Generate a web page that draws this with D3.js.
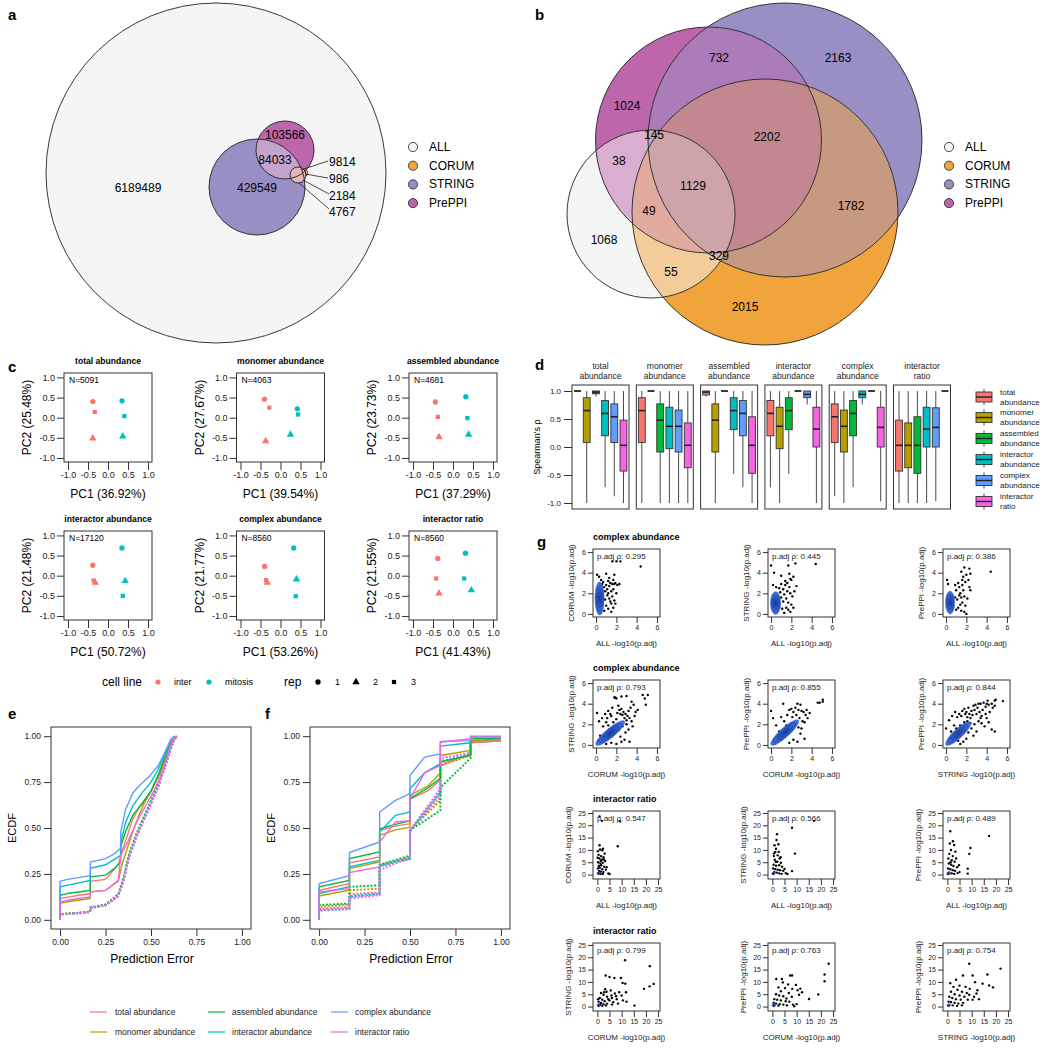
<!DOCTYPE html>
<html><head><meta charset="utf-8">
<script src="https://cdn.jsdelivr.net/npm/d3@7"></script>
<style>body{margin:0;background:#fff}svg{display:block}</style>
</head><body><svg id="c" width="1050" height="1050"></svg>
<script>
// ================= DATA =================
const vennSets = ["ALL","CORUM","STRING","PrePPI"];
const vennColors = ["#F5F5F5","#F1A43C","#9A8FC5","#BD66AC"];
// panel a region counts
const aCounts = [6189489, 429549, 84033, 103566, 9814, 986, 2184, 4767];
// panel b region counts
const bCounts = [732, 2163, 1024, 145, 2202, 38, 1129, 1782, 49, 1068, 329, 55, 2015];

// panel c (PCA)
const pcaTitles = ["total abundance","monomer abundance","assembled abundance","interactor abundance","complex abundance","interactor ratio"];
const pcaN = [5091, 4063, 4681, 17120, 8560, 8560];
const pcaVar1 = ["36.92","39.54","37.29","50.72","53.26","41.43"];
const pcaVar2 = ["25.48","27.67","23.73","21.48","21.77","21.55"];
const cellLines = ["inter","mitosis"];
const reps = ["1","2","3"];
// per panel: inter rep1, rep2, rep3, mitosis rep1, rep2, rep3
const pcaPC1 = [
  [-0.38,-0.38,-0.33, 0.35,0.37,0.41],
  [-0.40,-0.37,-0.28, 0.42,0.25,0.44],
  [-0.44,-0.35,-0.38, 0.32,0.39,0.36],
  [-0.38,-0.32,-0.36, 0.35,0.43,0.37],
  [-0.40,-0.33,-0.36, 0.33,0.40,0.38],
  [-0.38,-0.35,-0.42, 0.31,0.46,0.28]];
const pcaPC2 = [
  [0.40,-0.51,0.14, 0.42,-0.46,0.04],
  [0.46,-0.58,0.25, 0.22,-0.42,0.08],
  [0.39,-0.48,0.02, 0.52,-0.42,-0.01],
  [0.26,-0.17,-0.12, 0.69,-0.13,-0.50],
  [0.23,-0.17,-0.11, 0.69,-0.09,-0.51],
  [0.43,-0.44,-0.07, 0.56,-0.36,-0.07]];

// panel d (Spearman boxplots): [lower whisker, q1, median, q3, upper whisker]
const methods = ["total abundance","monomer abundance","assembled abundance","interactor abundance","complex abundance","interactor ratio"];
const methodColors = ["#F8766D","#B79F00","#00BA38","#00BFC4","#619CFF","#F564E3"];
const FLAT = [1,1,1,1,1];
const boxStats = [
  [FLAT,[-1,0.08,0.65,0.88,1],[0.9,0.95,0.98,1,1],[-0.72,0.2,0.6,0.83,1],[-0.88,0.08,0.54,0.77,1],[-1,-0.43,0.03,0.48,1]],
  [[-1,0.08,0.65,0.88,1],FLAT,[-1,-0.09,0.48,0.77,1],[-1,-0.03,0.37,0.71,1],[-1,-0.09,0.37,0.66,1],[-1,-0.37,0.03,0.43,1]],
  [[0.9,0.93,0.98,1,1],[-1,-0.09,0.48,0.77,1],FLAT,[-0.48,0.31,0.65,0.88,1],[-0.72,0.2,0.6,0.83,1],[-1,-0.47,0.03,0.54,1]],
  [[-0.72,0.2,0.6,0.83,1],[-1,-0.03,0.37,0.71,1],[-0.48,0.31,0.65,0.88,1],FLAT,[0.76,0.88,0.94,1,1],[-1,0,0.32,0.71,1]],
  [[-0.88,0.08,0.54,0.77,1],[-1,-0.09,0.37,0.66,1],[-0.72,0.2,0.6,0.83,1],[0.76,0.88,0.94,1,1],FLAT,[-0.97,0,0.35,0.71,1]],
  [[-1,-0.43,0.03,0.48,1],[-1,-0.37,0.03,0.43,1],[-1,-0.47,0.03,0.54,1],[-1,0,0.32,0.71,1],[-0.97,0,0.35,0.7,1],FLAT]];

// panel e ECDF (solid = model, dotted = baseline), order = methods
const eSolid = [
  [[0,0],[0,0.116],[0.05,0.125],[0.165,0.143],[0.167,0.21],[0.25,0.22],[0.32,0.30],[0.34,0.37],[0.37,0.46],[0.40,0.55],[0.44,0.62],[0.5,0.70],[0.55,0.80],[0.59,0.90],[0.62,0.985],[0.635,1.0]],
  [[0,0],[0,0.09],[0.05,0.1],[0.165,0.116],[0.167,0.152],[0.25,0.16],[0.32,0.21],[0.34,0.30],[0.37,0.39],[0.40,0.48],[0.43,0.56],[0.46,0.63],[0.5,0.70],[0.55,0.80],[0.59,0.90],[0.62,0.985],[0.64,1.0]],
  [[0,0],[0,0.134],[0.05,0.145],[0.165,0.16],[0.167,0.234],[0.25,0.243],[0.3,0.28],[0.332,0.315],[0.334,0.40],[0.36,0.48],[0.40,0.57],[0.45,0.63],[0.5,0.70],[0.54,0.79],[0.58,0.895],[0.61,0.97],[0.635,1.0]],
  [[0,0],[0,0.18],[0.05,0.19],[0.165,0.215],[0.167,0.28],[0.25,0.30],[0.332,0.35],[0.334,0.42],[0.36,0.53],[0.40,0.62],[0.45,0.69],[0.5,0.75],[0.54,0.82],[0.58,0.91],[0.61,0.98],[0.63,1.0]],
  [[0,0],[0,0.21],[0.04,0.22],[0.1,0.23],[0.165,0.24],[0.167,0.315],[0.25,0.333],[0.3,0.36],[0.332,0.39],[0.334,0.48],[0.36,0.6],[0.4,0.69],[0.435,0.73],[0.49,0.78],[0.54,0.84],[0.58,0.92],[0.61,0.985],[0.63,1.0]],
  [[0,0],[0,0.098],[0.05,0.108],[0.165,0.125],[0.167,0.152],[0.25,0.16],[0.32,0.215],[0.334,0.35],[0.37,0.42],[0.42,0.53],[0.47,0.62],[0.52,0.71],[0.56,0.80],[0.59,0.895],[0.62,0.985],[0.64,1.0]]];
const eDotted = [
  [[0,0],[0,0.03],[0.1,0.037],[0.165,0.044],[0.167,0.066],[0.25,0.082],[0.32,0.136],[0.35,0.23],[0.38,0.355],[0.42,0.465],[0.46,0.555],[0.5,0.645],[0.54,0.735],[0.57,0.825],[0.6,0.91],[0.625,0.98],[0.64,1.0]],
  [[0,0],[0,0.032],[0.1,0.038],[0.165,0.045],[0.167,0.064],[0.25,0.079],[0.32,0.13],[0.35,0.22],[0.38,0.345],[0.42,0.455],[0.46,0.545],[0.5,0.635],[0.54,0.725],[0.57,0.815],[0.6,0.905],[0.625,0.975],[0.645,1.0]],
  [[0,0],[0,0.031],[0.1,0.038],[0.165,0.045],[0.167,0.068],[0.25,0.084],[0.32,0.14],[0.35,0.235],[0.38,0.36],[0.42,0.47],[0.46,0.56],[0.5,0.65],[0.54,0.74],[0.57,0.83],[0.6,0.915],[0.625,0.982],[0.64,1.0]],
  [[0,0],[0,0.03],[0.1,0.036],[0.165,0.043],[0.167,0.065],[0.25,0.08],[0.32,0.132],[0.35,0.222],[0.38,0.348],[0.42,0.458],[0.46,0.548],[0.5,0.638],[0.54,0.728],[0.57,0.818],[0.6,0.905],[0.625,0.978],[0.64,1.0]],
  [[0,0],[0,0.029],[0.1,0.035],[0.165,0.042],[0.167,0.063],[0.25,0.078],[0.32,0.128],[0.35,0.215],[0.38,0.34],[0.42,0.45],[0.46,0.54],[0.5,0.63],[0.54,0.72],[0.57,0.81],[0.6,0.9],[0.625,0.975],[0.645,1.0]],
  [[0,0],[0,0.03],[0.1,0.036],[0.165,0.043],[0.167,0.064],[0.25,0.079],[0.32,0.13],[0.35,0.218],[0.38,0.342],[0.42,0.452],[0.46,0.542],[0.5,0.632],[0.54,0.722],[0.57,0.812],[0.6,0.902],[0.625,0.976],[0.645,1.0]]];
// panel f ECDF
const fSolid = [
  [[0,0],[0,0.161],[0.167,0.197],[0.167,0.31],[0.333,0.342],[0.333,0.487],[0.42,0.51],[0.5,0.524],[0.5,0.656],[0.6,0.705],[0.667,0.76],[0.667,0.84],[0.833,0.904],[0.833,0.964],[1.0,0.975]],
  [[0,0],[0,0.13],[0.167,0.161],[0.167,0.279],[0.333,0.315],[0.333,0.46],[0.42,0.49],[0.5,0.505],[0.5,0.677],[0.6,0.73],[0.667,0.80],[0.667,0.895],[0.833,0.922],[0.833,0.976],[1.0,0.985]],
  [[0,0],[0,0.18],[0.167,0.215],[0.167,0.333],[0.333,0.37],[0.333,0.496],[0.42,0.52],[0.5,0.54],[0.5,0.66],[0.6,0.72],[0.667,0.77],[0.667,0.86],[0.833,0.895],[0.833,0.985],[1.0,0.99]],
  [[0,0],[0,0.143],[0.167,0.18],[0.167,0.288],[0.333,0.324],[0.333,0.478],[0.42,0.569],[0.5,0.587],[0.5,0.714],[0.58,0.80],[0.667,0.85],[0.667,0.946],[0.833,0.964],[0.833,0.995],[1.0,0.996]],
  [[0,0],[0,0.197],[0.167,0.24],[0.167,0.366],[0.333,0.424],[0.333,0.587],[0.42,0.65],[0.5,0.687],[0.5,0.786],[0.58,0.886],[0.667,0.904],[0.667,0.971],[0.833,0.976],[0.833,1.0],[1.0,1.0]],
  [[0,0],[0,0.152],[0.167,0.17],[0.167,0.257],[0.333,0.288],[0.333,0.424],[0.42,0.533],[0.5,0.54],[0.5,0.66],[0.58,0.80],[0.667,0.84],[0.667,0.967],[0.833,0.986],[0.833,0.995],[1.0,0.996]]];
const fDotted = [
  [[0,0],[0,0.06],[0.167,0.07],[0.167,0.14],[0.333,0.15],[0.333,0.295],[0.5,0.335],[0.5,0.485],[0.667,0.67],[0.667,0.85],[0.833,0.9],[0.833,0.968],[1.0,0.978]],
  [[0,0],[0,0.07],[0.167,0.083],[0.167,0.161],[0.333,0.17],[0.333,0.297],[0.5,0.342],[0.5,0.487],[0.667,0.65],[0.667,0.84],[0.833,0.895],[0.833,0.967],[1.0,0.975]],
  [[0,0],[0,0.08],[0.167,0.089],[0.167,0.18],[0.333,0.188],[0.333,0.30],[0.5,0.35],[0.5,0.487],[0.667,0.596],[0.667,0.72],[0.833,0.88],[0.833,0.967],[1.0,0.975]],
  [[0,0],[0,0.053],[0.167,0.06],[0.167,0.13],[0.333,0.143],[0.333,0.297],[0.5,0.333],[0.5,0.487],[0.667,0.696],[0.667,0.86],[0.833,0.904],[0.833,0.971],[1.0,0.98]],
  [[0,0],[0,0.05],[0.167,0.058],[0.167,0.125],[0.333,0.14],[0.333,0.29],[0.5,0.33],[0.5,0.48],[0.667,0.69],[0.667,0.865],[0.833,0.9],[0.833,0.97],[1.0,0.98]],
  [[0,0],[0,0.053],[0.167,0.065],[0.167,0.116],[0.333,0.134],[0.333,0.27],[0.5,0.342],[0.5,0.487],[0.667,0.714],[0.667,0.88],[0.833,0.91],[0.833,0.971],[1.0,0.98]]];

// panel g scatter
const gRowTitles = ["complex abundance","complex abundance","interactor ratio","interactor ratio"];
const gXNames = ["ALL","ALL","ALL","CORUM","CORUM","STRING"];
const gYNames = ["CORUM","STRING","PrePPI","STRING","PrePPI","PrePPI"];
const gRho = ["0.295","0.445","0.386","0.793","0.855","0.844","0.547","0.566","0.489","0.799","0.763","0.754"];
const gPoints = [
  [[0.1,3.8],[0.3,3.6],[0.5,3.3],[0.6,2.9],[0.7,3.1],[0.8,2.6],[0.9,2.2],[1.0,3.9],[1.0,2.8],[1.1,2.4],[1.1,1.8],[1.2,3.2],[1.2,2.0],[1.3,1.5],[1.3,2.7],[1.4,1.2],[1.4,3.0],[1.5,2.2],[1.5,1.0],[1.5,0.2],[1.6,2.9],[1.6,1.7],[1.7,3.3],[1.7,2.4],[1.8,3.8],[1.8,2.9],[1.8,1.3],[1.9,3.0],[2.0,2.0],[2.1,2.8],[2.3,2.9],[0.9,1.4],[1.0,0.8],[1.2,0.5],[0.8,0.3],[1.6,5.1],[2.0,5.1],[2.4,5.1],[4.4,4.6],[1.9,1.0],[1.3,3.5],[0.5,0.1],[1.7,0.6]],
  [[0,4.7],[4.4,4.85],[1.7,4.7],[2.4,4.9],[1.8,3.9],[2.0,3.3],[1.0,3.7],[0.2,2.8],[0.5,2.6],[0.8,2.5],[1.0,2.9],[1.2,2.4],[1.3,1.9],[1.4,2.8],[1.5,1.5],[1.6,2.2],[1.7,1.1],[1.8,2.6],[1.9,3.4],[2.0,0.9],[2.1,1.7],[2.3,2.2],[1.5,0.6],[1.2,1.2],[1.0,1.6],[0.9,2.1],[1.7,0.4],[1.9,0.2],[2.2,0.6],[1.4,3.2],[1.1,0.5],[2.5,2.7],[1.6,3.0],[0.3,4.0],[1.3,0.1],[2.2,3.6],[1.9,2.0]],
  [[1.8,4.5],[2.3,4.4],[1.5,4.1],[4.4,4.1],[2.3,2.6],[2.4,2.3],[2.0,3.8],[2.2,3.3],[1.9,3.1],[1.6,3.3],[1.2,3.0],[0.1,3.3],[0.2,2.9],[0.9,2.8],[1.0,2.3],[1.3,2.6],[1.4,2.0],[1.5,1.6],[1.6,1.1],[1.7,2.3],[1.8,1.7],[1.9,0.8],[2.0,0.0],[1.2,0.6],[1.5,0.3],[1.8,0.2],[1.1,1.4],[1.3,1.8],[1.6,2.8],[2.4,3.9],[1.7,3.6],[1.4,0.9],[0.9,1.6],[1.0,0.4],[2.1,1.5]],
  [[0.1,3.1],[0.3,2.3],[0.6,2.6],[0.9,3.0],[1.2,3.3],[1.4,3.0],[1.5,2.8],[1.8,4.6],[1.9,4.6],[2.0,4.5],[1.6,3.6],[2.2,3.8],[2.3,3.4],[2.4,3.0],[2.5,3.5],[2.6,2.9],[2.7,3.2],[2.8,2.6],[2.9,3.0],[3.0,2.4],[3.1,2.8],[3.2,3.3],[3.3,2.6],[3.4,3.6],[3.5,2.3],[2.5,4.7],[3.0,4.75],[4.6,4.85],[5.1,4.85],[4.9,3.9],[4.8,4.5],[3.7,3.9],[3.5,4.2],[1.0,0.1],[1.5,0.2],[2.0,0.1],[2.5,0.3],[3.3,0.3],[2.8,0.5],[1.2,1.9],[1.7,2.2],[2.0,2.5],[2.2,1.4],[2.6,1.8],[2.9,1.2],[3.2,1.5],[3.0,2.0],[2.4,0.8],[1.0,2.2],[0.7,1.8],[3.8,2.8],[4.1,3.4],[3.6,1.8],[0.4,0.9],[1.3,1.5],[2.1,3.1],[1.1,2.6],[3.9,3.2],[0.2,0.4]],
  [[0,3.3],[0.2,2.6],[0.5,1.9],[1.2,4.0],[1.0,2.7],[1.3,2.3],[1.6,2.9],[1.8,3.4],[2.0,3.5],[2.2,3.2],[2.4,3.6],[2.5,2.9],[2.7,3.4],[2.8,2.6],[3.0,3.3],[3.2,3.2],[3.4,2.9],[3.3,2.2],[3.5,3.4],[2.6,4.0],[3.0,1.6],[2.2,0.5],[1.8,0.2],[2.6,0.3],[3.3,0.6],[2.9,1.1],[4.6,4.1],[4.8,4.1],[5.1,4.4],[5.1,4.2],[2.3,2.2],[2.0,1.4],[1.5,1.9],[0.8,1.3],[1.1,0.6],[3.1,2.3],[2.9,3.9],[3.6,2.6],[2.1,2.7],[1.4,0.9],[3.8,3.1],[0.4,0.1],[2.7,1.7]],
  [[0,1.6],[0.3,2.4],[0.6,2.8],[0.9,3.2],[1.1,2.7],[1.3,3.0],[1.5,2.8],[1.6,3.3],[1.8,3.5],[1.9,3.0],[2.0,3.2],[2.1,2.7],[2.2,3.6],[2.3,3.0],[2.4,2.6],[2.5,3.3],[2.6,2.9],[2.7,3.8],[2.8,3.4],[2.9,3.9],[3.0,3.0],[3.1,3.6],[3.2,4.0],[3.3,3.2],[3.4,4.0],[3.5,2.8],[3.6,3.4],[3.7,4.1],[3.9,3.7],[4.0,4.0],[4.2,3.9],[4.3,3.2],[4.5,4.0],[4.6,3.6],[4.8,4.3],[4.8,3.8],[4.9,4.4],[5.6,4.25],[4.5,1.5],[4.8,1.3],[3.8,1.8],[3.2,2.3],[2.8,2.0],[2.5,1.6],[2.2,1.2],[2.0,0.6],[1.7,0.3],[1.4,0.1],[1.2,0.4],[2.7,0.9],[3.0,1.3],[3.5,2.1],[4.0,2.6],[4.2,2.2],[0.5,1.3],[0.8,1.9],[1.0,1.6],[1.4,1.9],[1.8,2.2],[2.1,2.3],[2.4,2.1],[3.4,2.6],[3.9,3.0],[4.1,4.3]],
  [[0.9,23.6],[1.9,21.8],[9.3,21.6],[8.4,11.5],[0.9,11.9],[2.3,10.5],[3.0,8.5],[2.0,9.8],[0.5,8.0],[1.5,7.5],[2.5,7.0],[0.8,6.5],[1.8,6.0],[3.2,5.5],[0.3,5.0],[1.2,4.5],[2.2,4.8],[0.6,3.5],[1.6,3.8],[2.8,3.2],[0.2,2.5],[1.0,2.8],[2.0,2.2],[3.5,2.0],[0.7,1.5],[1.5,1.2],[2.5,1.0],[0.4,0.5],[1.3,0.3],[2.2,0.2],[4.5,0.5],[5.0,0.2],[0.2,9.5],[1.1,10.2],[1.4,5.6],[2.6,6.2],[0.1,6.8],[3.8,3.0]],
  [[17.2,21.8],[8.1,19.0],[1.9,16.4],[0.9,11.9],[1.2,9.2],[9.3,8.5],[8.1,1.4],[2.5,12.3],[1.5,10.5],[0.6,7.5],[2.2,7.8],[3.0,6.5],[1.0,6.0],[2.0,5.2],[3.5,4.8],[0.5,4.0],[1.5,3.6],[2.8,3.8],[4.0,3.2],[0.3,2.5],[1.2,2.2],[2.2,2.0],[3.2,1.8],[4.5,1.5],[0.8,1.0],[1.8,0.8],[2.8,0.5],[3.8,0.3],[5.5,0.6],[6.2,0.2],[0.2,0.3],[1.4,5.2],[2.6,9.2],[0.7,8.6],[1.7,14.0],[5.0,2.3],[3.4,7.0]],
  [[1.2,17.6],[17.2,15.7],[2.3,13.5],[9.0,8.4],[9.5,10.8],[8.4,2.4],[8.4,0.4],[1.0,12.6],[2.8,12.0],[1.5,10.0],[3.3,9.3],[0.8,8.4],[2.2,7.5],[0.4,6.5],[1.8,5.8],[3.0,5.2],[0.6,4.5],[1.6,4.0],[2.5,3.5],[4.0,3.0],[0.3,2.5],[1.2,2.2],[2.2,1.8],[3.2,1.5],[5.0,1.0],[0.8,0.8],[1.8,0.5],[2.8,0.3],[4.2,0.6],[0.2,0.2],[3.6,6.5],[1.3,5.0],[4.8,3.8]],
  [[11.4,18.8],[21.6,16.4],[3.4,12.6],[5.0,12.0],[7.0,11.6],[9.7,11.6],[10.4,9.6],[11.5,9.3],[23.2,9.2],[21.5,8.2],[19.2,7.2],[15.3,0.4],[9.0,5.8],[11.8,5.8],[7.7,4.2],[5.5,6.5],[3.2,7.0],[1.5,5.5],[2.5,4.8],[4.0,4.0],[6.0,3.5],[8.0,3.0],[10.5,2.5],[12.0,2.0],[1.0,3.5],[2.0,2.8],[3.0,2.2],[5.0,2.5],[6.5,1.8],[8.5,1.2],[0.5,2.0],[1.5,1.5],[2.5,1.0],[4.0,1.2],[0.8,0.5],[2.0,0.3],[3.5,0.5],[6.0,0.8],[1.2,1.0],[4.5,3.0],[7.2,5.3],[2.8,5.8],[10.0,4.5],[3.8,6.0],[0.3,3.0],[5.8,4.5]],
  [[23.2,17.4],[21.5,13.0],[21.5,10.3],[18.9,4.9],[15.1,3.1],[7.3,12.6],[8.1,12.6],[1.6,11.2],[3.9,11.2],[9.7,8.8],[10.4,6.6],[9.0,0.1],[4.3,9.8],[6.5,9.0],[5.2,7.5],[8.2,7.2],[11.5,7.3],[12.2,5.8],[11.0,4.8],[2.5,7.8],[3.5,6.2],[6.8,5.5],[1.5,5.0],[2.8,4.5],[4.5,4.2],[8.0,4.0],[0.8,3.0],[2.0,2.8],[3.5,2.5],[5.5,2.2],[7.0,2.0],[0.5,1.5],[1.5,1.2],[3.0,1.0],[4.5,0.8],[0.8,0.3],[2.5,0.4],[6.0,0.5],[8.5,0.8],[5.8,3.3],[10.0,1.0]],
  [[21.9,15.4],[9.0,17.4],[16.5,13.0],[17.2,8.6],[18.8,7.8],[10.4,12.6],[6.4,12.6],[3.6,10.9],[11.4,9.9],[12.4,6.6],[14.5,9.3],[8.4,2.8],[10.4,2.8],[5.0,8.5],[7.5,8.0],[9.2,7.2],[2.5,8.0],[4.2,6.8],[6.0,6.0],[8.0,5.5],[1.5,6.0],[3.0,5.0],[5.0,4.5],[7.0,4.0],[11.0,4.0],[0.8,4.0],[2.0,3.5],[3.5,3.0],[5.5,2.8],[13.0,3.0],[0.5,2.0],[1.5,1.8],[3.0,1.5],[4.5,1.2],[6.5,1.5],[0.8,0.6],[2.2,0.5],[4.0,0.3],[6.0,0.5],[9.0,4.8],[12.0,5.3],[1.2,9.5]]];
// density cores: [cx, cy, semi-axis a, semi-axis b, angle deg] (data units)
const gDensity = [
  [0.35,1.5,1.6,0.45,90],[0.45,1.05,1.1,0.5,90],[0.4,1.1,1.1,0.45,90],
  [1.4,1.15,1.81,0.45,39.4],[1.35,1.2,1.8,0.45,41.6],[1.2,1.1,1.63,0.45,42.5],
  [0.5,0.5,0.6,0.6,0],[0.5,0.5,0.6,0.6,0],[0.5,0.5,0.6,0.6,0],
  [0.5,0.5,0.6,0.6,0],[0.5,0.5,0.6,0.6,0],[0.5,0.5,0.6,0.6,0]];

// ================= DRAW =================
const FONT = '"Liberation Sans", Arial, Helvetica, sans-serif';
const svg = d3.select("#c").attr("font-family", FONT);
const defs = svg.append("defs");
svg.append("rect").attr("width",1050).attr("height",1050).attr("fill","#fff");

function txt(g, x, y, s, o = {}) {
  const t = g.append("text").attr("x",x).attr("y",y).text(s)
    .attr("font-size", o.size || 10).attr("fill", o.fill || "#000")
    .attr("text-anchor", o.anchor || "start")
    .attr("dominant-baseline", "central");
  if (o.weight) t.attr("font-weight", o.weight);
  if (o.rotate != null) t.attr("transform", `rotate(${o.rotate},${x},${y})`);
  return t;
}
function axis(g, orient, scale, vals, fmt, size, len, pad, tr) {
  const ax = (orient === "left" ? d3.axisLeft : d3.axisBottom)(scale)
    .tickValues(vals).tickFormat(fmt).tickSize(len).tickPadding(pad);
  const a = g.append("g").attr("transform", tr).call(ax);
  a.attr("font-family", FONT).attr("font-size", size);
  a.select(".domain").remove();
  a.selectAll(".tick line").attr("stroke","#333").attr("stroke-width",1);
  a.selectAll(".tick text").attr("fill","#222");
  return a;
}
function mix(cols) {
  const c = cols.map(d => d3.rgb(d));
  return d3.rgb(d3.mean(c, d => d.r), d3.mean(c, d => d.g), d3.mean(c, d => d.b)).formatHex();
}

// panel letters
[["a",8,14],["b",535,14],["c",8,366],["d",535,364],["e",8,713],["f",265,713],["g",537,541]]
  .forEach(([l,x,y]) => txt(svg, x, y, l, {size:15, weight:"bold"}));

// ---------- Panel a ----------
const gA = svg.append("g");
const aGeo = {ALL:[216,173,170], STRING:[257,187,48], PrePPI:[285,150,29], CORUM:[298,175,8]};
const circ = (g, k, geo) => g.append("circle").attr("cx",geo[k][0]).attr("cy",geo[k][1]).attr("r",geo[k][2]);
circ(gA,"ALL",aGeo).attr("fill",vennColors[0]);
circ(gA,"STRING",aGeo).attr("fill",vennColors[2]);
circ(gA,"PrePPI",aGeo).attr("fill",vennColors[3]);
{
  const id = "clipAS";
  defs.append("clipPath").attr("id",id).append("circle").attr("cx",aGeo.STRING[0]).attr("cy",aGeo.STRING[1]).attr("r",aGeo.STRING[2]);
  circ(gA.append("g").attr("clip-path",`url(#${id})`),"PrePPI",aGeo).attr("fill", mix([vennColors[0],vennColors[2],vennColors[3]]));
}
gA.append("circle").attr("cx",305).attr("cy",173).attr("r",3).attr("fill",vennColors[1]).attr("stroke","#222").attr("stroke-width",0.6);
circ(gA,"CORUM",aGeo).attr("fill","#E2B6BA");
["ALL","STRING","PrePPI","CORUM"].forEach(k => circ(gA,k,aGeo).attr("fill","none").attr("stroke","#222").attr("stroke-width",0.9));
const aLabelPos = [[138,188,"middle"],[257,188,"middle"],[275,160,"middle"],[285,135,"middle"],[329,162,"start"],[329,179,"start"],[329,196,"start"],[329,212,"start"]];
const aLeaders = [[[301,170],[328,161]],[[305,174],[328,178]],[[303,180],[329,194]],[[299,183],[329,209]]];
aLeaders.forEach(l => gA.append("line").attr("x1",l[0][0]).attr("y1",l[0][1]).attr("x2",l[1][0]).attr("y2",l[1][1]).attr("stroke","#222").attr("stroke-width",0.8));
aCounts.forEach((c,i) => txt(gA, aLabelPos[i][0], aLabelPos[i][1], String(c), {size:12, anchor:aLabelPos[i][2]}));

function vennLegend(x, xt) {
  vennSets.forEach((s,i) => {
    const y = 147 + i*18.7;
    svg.append("circle").attr("cx",x).attr("cy",y).attr("r",4.6).attr("fill",vennColors[i]).attr("stroke","#222").attr("stroke-width",0.8);
    txt(svg, xt, y, s, {size:12});
  });
}
vennLegend(413, 429);

// ---------- Panel b ----------
const gB = svg.append("g");
const bGeo = [[651,214,84],[765,212,133],[785,140,137],[708.5,140,113]]; // ALL, CORUM, STRING, PrePPI
for (let m = 1; m < 16; m++) {
  const ins = [], outs = [];
  bGeo.forEach((c,i) => (m & (1<<i) ? ins : outs).push(i));
  const col = mix(ins.map(i => vennColors[i]));
  const mid = "bm" + m;
  const mk = defs.append("mask").attr("id",mid).attr("maskUnits","userSpaceOnUse").attr("x",0).attr("y",0).attr("width",1050).attr("height",1050);
  mk.append("rect").attr("x",0).attr("y",0).attr("width",1050).attr("height",1050).attr("fill","#fff");
  outs.forEach(i => mk.append("circle").attr("cx",bGeo[i][0]).attr("cy",bGeo[i][1]).attr("r",bGeo[i][2]).attr("fill","#000"));
  let grp = gB.append("g").attr("mask",`url(#${mid})`);
  ins.slice(1).forEach(i => {
    const cid = "bc" + m + "_" + i;
    defs.append("clipPath").attr("id",cid).append("circle").attr("cx",bGeo[i][0]).attr("cy",bGeo[i][1]).attr("r",bGeo[i][2]);
    grp = grp.append("g").attr("clip-path",`url(#${cid})`);
  });
  const c0 = bGeo[ins[0]];
  grp.append("circle").attr("cx",c0[0]).attr("cy",c0[1]).attr("r",c0[2]).attr("fill",col);
}
bGeo.forEach(c => gB.append("circle").attr("cx",c[0]).attr("cy",c[1]).attr("r",c[2]).attr("fill","none").attr("stroke","#222").attr("stroke-width",0.9));
const bLabelPos = [[719,58],[838,58],[627,106],[654,135],[767,137],[619,161],[693,186],[851,206],[649,211],[604,240],[719,256],[671,272],[745,307]];
bCounts.forEach((c,i) => txt(gB, bLabelPos[i][0], bLabelPos[i][1], String(c), {size:12, anchor:"middle"}));
vennLegend(949, 965);

// ---------- Panel c (PCA) ----------
const cellColors = ["#F8766D","#00BFC4"];
const repSymbols = [d3.symbolCircle, d3.symbolTriangle, d3.symbolSquare];
const repSizes = [22, 24, 18];
const pcaLeft = [64,236.5,409], pcaTop = [373,531], pcaW = 88, pcaH = 89;
pcaTitles.forEach((title,i) => {
  const col = i % 3, row = Math.floor(i/3);
  const x0 = pcaLeft[col], y0 = pcaTop[row];
  const xs = d3.scaleLinear().domain([-1.1,1.1]).range([x0, x0+pcaW]);
  const ys = d3.scaleLinear().domain([-1.1,1.11]).range([y0+pcaH, y0]);
  const g = svg.append("g");
  g.append("rect").attr("x",x0).attr("y",y0).attr("width",pcaW).attr("height",pcaH).attr("fill","#fff").attr("stroke","#333").attr("stroke-width",1);
  const fmt = d => d.toFixed(1);
  axis(g,"left",ys,[-1,-0.5,0,0.5,1],fmt,9,7,2,`translate(${x0},0)`);
  axis(g,"bottom",xs,[-1,-0.5,0,0.5,1],fmt,9,8,1.5,`translate(0,${y0+pcaH})`);
  txt(g, x0+pcaW/2, y0-12, title, {size:8.6, weight:"bold", anchor:"middle"});
  txt(g, x0+5, y0+7, "N=" + pcaN[i], {size:8.5});
  txt(g, x0-37, y0+pcaH/2, `PC2 (${pcaVar2[i]}%)`, {size:12, anchor:"middle", rotate:-90});
  txt(g, x0+pcaW/2, y0+121, `PC1 (${pcaVar1[i]}%)`, {size:12, anchor:"middle"});
  pcaPC1[i].forEach((v,k) => {
    const cl = Math.floor(k/3), rp = k % 3;
    g.append("path").attr("d", d3.symbol().type(repSymbols[rp]).size(repSizes[rp])())
      .attr("transform",`translate(${xs(v)},${ys(pcaPC2[i][k])})`).attr("fill",cellColors[cl]);
  });
});
// PCA legend
{
  const y = 682;
  txt(svg,102,y,"cell line",{size:12});
  cellLines.forEach((c,i) => {
    const x = [158,209][i];
    svg.append("circle").attr("cx",x).attr("cy",y).attr("r",2.6).attr("fill",cellColors[i]);
    txt(svg,x+16,y,c,{size:9});
  });
  txt(svg,284,y,"rep",{size:12});
  reps.forEach((r,i) => {
    const x = 318 + i*38;
    svg.append("path").attr("d", d3.symbol().type(repSymbols[i]).size(repSizes[i])()).attr("transform",`translate(${x},${y})`).attr("fill","#000");
    txt(svg,x+17,y,r,{size:9});
  });
}

// ---------- Panel d (boxplots) ----------
{
  const gD = svg.append("g");
  const dLeft = [572,636.3,700.6,764.9,829.2,893.5], dW = 57, dTop = 385, dBot = 509;
  const yD = d3.scaleLinear().domain([-1,1]).range([503,391]);
  const step = dW/6.2, bw = 0.75*step;
  methods.forEach((facet,f) => {
    const x0 = dLeft[f];
    gD.append("rect").attr("x",x0).attr("y",dTop).attr("width",dW).attr("height",dBot-dTop).attr("fill","#fff").attr("stroke","#333").attr("stroke-width",1);
    const words = facet.split(" ");
    txt(gD, x0+dW/2, 366, words[0], {size:8.5, anchor:"middle", fill:"#222"});
    txt(gD, x0+dW/2, 376, words[1], {size:8.5, anchor:"middle", fill:"#222"});
    boxStats[f].forEach((s,m) => {
      const cx = x0 + (0.6+m)*step;
      const [lw,q1,md,q3,uw] = s;
      if (q1 === q3) {
        gD.append("line").attr("x1",cx-bw/2).attr("x2",cx+bw/2).attr("y1",yD(md)).attr("y2",yD(md)).attr("stroke","#222").attr("stroke-width",1.8);
        return;
      }
      gD.append("line").attr("x1",cx).attr("x2",cx).attr("y1",yD(lw)).attr("y2",yD(uw)).attr("stroke","#333").attr("stroke-width",0.9);
      gD.append("rect").attr("x",cx-bw/2).attr("width",bw).attr("y",yD(q3)).attr("height",yD(q1)-yD(q3))
        .attr("fill",methodColors[m]).attr("stroke","#333").attr("stroke-width",0.9);
      gD.append("line").attr("x1",cx-bw/2).attr("x2",cx+bw/2).attr("y1",yD(md)).attr("y2",yD(md)).attr("stroke","#222").attr("stroke-width",1.6);
    });
  });
  axis(gD,"left",yD,[-1,-0.5,0,0.5,1],d=>d.toFixed(1),8,8,3,`translate(572,0)`);
  txt(gD,537,447,"Spearman's ρ",{size:9, anchor:"middle", rotate:-90});
  const ly = [397,417.5,438.5,459.5,480.5,501.5];
  methods.forEach((mth,i) => {
    const cx = 984, cy = ly[i];
    gD.append("line").attr("x1",cx).attr("x2",cx).attr("y1",cy-8).attr("y2",cy+8).attr("stroke","#333").attr("stroke-width",0.9);
    gD.append("rect").attr("x",cx-8).attr("y",cy-5).attr("width",16).attr("height",10).attr("fill",methodColors[i]).attr("stroke","#333").attr("stroke-width",0.9);
    gD.append("line").attr("x1",cx-8).attr("x2",cx+8).attr("y1",cy).attr("y2",cy).attr("stroke","#222").attr("stroke-width",1.4);
    const w = mth.split(" ");
    txt(gD,1000,cy-5,w[0],{size:8, fill:"#222"});
    txt(gD,1000,cy+5,w[1],{size:8, fill:"#222"});
  });
}

// ---------- Panels e, f (ECDF) ----------
function ecdfPanel(x0, solid, dotted) {
  const g = svg.append("g");
  const xs = d3.scaleLinear().domain([-0.05,1.05]).range([x0, x0+200]);
  const ys = d3.scaleLinear().domain([-0.05,1.05]).range([929,727]);
  g.append("rect").attr("x",x0).attr("y",727).attr("width",200).attr("height",202).attr("fill","#fff").attr("stroke","#333").attr("stroke-width",1);
  const line = d3.line().x(d => xs(d[0])).y(d => ys(d[1]));
  dotted.forEach((s,i) => g.append("path").attr("d",line(s)).attr("fill","none").attr("stroke",methodColors[i]).attr("stroke-width",1.9).attr("stroke-dasharray","2,1.6"));
  solid.forEach((s,i) => g.append("path").attr("d",line(s)).attr("fill","none").attr("stroke",methodColors[i]).attr("stroke-width",1.4));
  const vals = [0,0.25,0.5,0.75,1], fmt = d => d.toFixed(2);
  axis(g,"left",ys,vals,fmt,8.5,7,3,`translate(${x0},0)`);
  axis(g,"bottom",xs,vals,fmt,8.5,7,3,`translate(0,929)`);
  txt(g,x0+101,959,"Prediction Error",{size:12, anchor:"middle"});
  txt(g,x0-39,828,"ECDF",{size:11, anchor:"middle", rotate:-90});
}
ecdfPanel(51, eSolid, eDotted);
ecdfPanel(310, fSolid, fDotted);
{
  const cols = [[90,115],[208,232],[331,355]], rows = [1012,1032];
  methods.forEach((m,i) => {
    const c = cols[Math.floor(i/2)], y = rows[i%2];
    svg.append("line").attr("x1",c[0]).attr("x2",c[0]+17).attr("y1",y).attr("y2",y).attr("stroke",methodColors[i]).attr("stroke-width",1.2);
    txt(svg,c[1],y,m,{size:8.5, fill:"#222"});
  });
}

// ---------- Panel g (scatter) ----------
{
  const gLeft = [593,768,943], gTop = [549,680,811,943], gW = 67, gH = 68;
  gRowTitles.forEach((t,r) => txt(svg, 593, gTop[r]-12, t, {size:9, weight:"bold"}));
  gPoints.forEach((pts,p) => {
    const r = Math.floor(p/3), c = p % 3;
    const x0 = gLeft[c], y0 = gTop[r];
    const big = r >= 2;
    const dom = big ? [-1.8,25.8] : [-0.3,6.3];
    const ticks = big ? [0,5,10,15,20,25] : [0,2,4,6];
    const xs = d3.scaleLinear().domain(dom).range([x0, x0+gW]);
    const ys = d3.scaleLinear().domain(dom).range([y0+gH, y0]);
    const g = svg.append("g");
    g.append("rect").attr("x",x0).attr("y",y0).attr("width",gW).attr("height",gH).attr("fill","#fff").attr("stroke","#333").attr("stroke-width",1);
    const cid = "gclip" + p;
    defs.append("clipPath").attr("id",cid).append("rect").attr("x",x0).attr("y",y0).attr("width",gW).attr("height",gH);
    const inner = g.append("g").attr("clip-path",`url(#${cid})`);
    inner.selectAll("circle").data(pts).join("circle").attr("cx",d=>xs(d[0])).attr("cy",d=>ys(d[1])).attr("r",1.2).attr("fill","#000");
    const [cx,cy,a,b,ang] = gDensity[p];
    const th = ang*Math.PI/180;
    const levels = [1,0.78,0.56,0.34,0.15];
    const fills = ["#3F6FE0","#3766D6","#2F5BC8","#2850B8","#2046A6"];
    levels.forEach((lv,k) => {
      const ptsE = d3.range(0, 2*Math.PI+0.01, Math.PI/24).map(t => {
        const u = a*lv*Math.cos(t), v = b*lv*Math.sin(t);
        return [xs(cx + u*Math.cos(th) - v*Math.sin(th)), ys(cy + u*Math.sin(th) + v*Math.cos(th))];
      });
      inner.append("path").attr("d", d3.line()(ptsE)+"Z").attr("fill",fills[k])
        .attr("stroke", k===0 ? "#2a55c0" : "#163585").attr("stroke-width",0.5);
    });
    axis(g,"left",ys,ticks,d=>String(d),7,5,2,`translate(${x0},0)`);
    axis(g,"bottom",xs,ticks,d=>String(d),7,6,2,`translate(0,${y0+gH})`);
    txt(g, x0+4, y0+7, "p.adj ρ: " + gRho[p], {size:8, fill:"#222"});
    txt(g, x0+gW/2, y0+gH+26, gXNames[p%6] + " -log10(p.adj)", {size:8, anchor:"middle", fill:"#222"});
    txt(g, x0-(big?25:22), y0+gH/2, gYNames[p%6] + " -log10(p.adj)", {size:8, anchor:"middle", fill:"#222", rotate:-90});
  });
}
</script></body></html>
